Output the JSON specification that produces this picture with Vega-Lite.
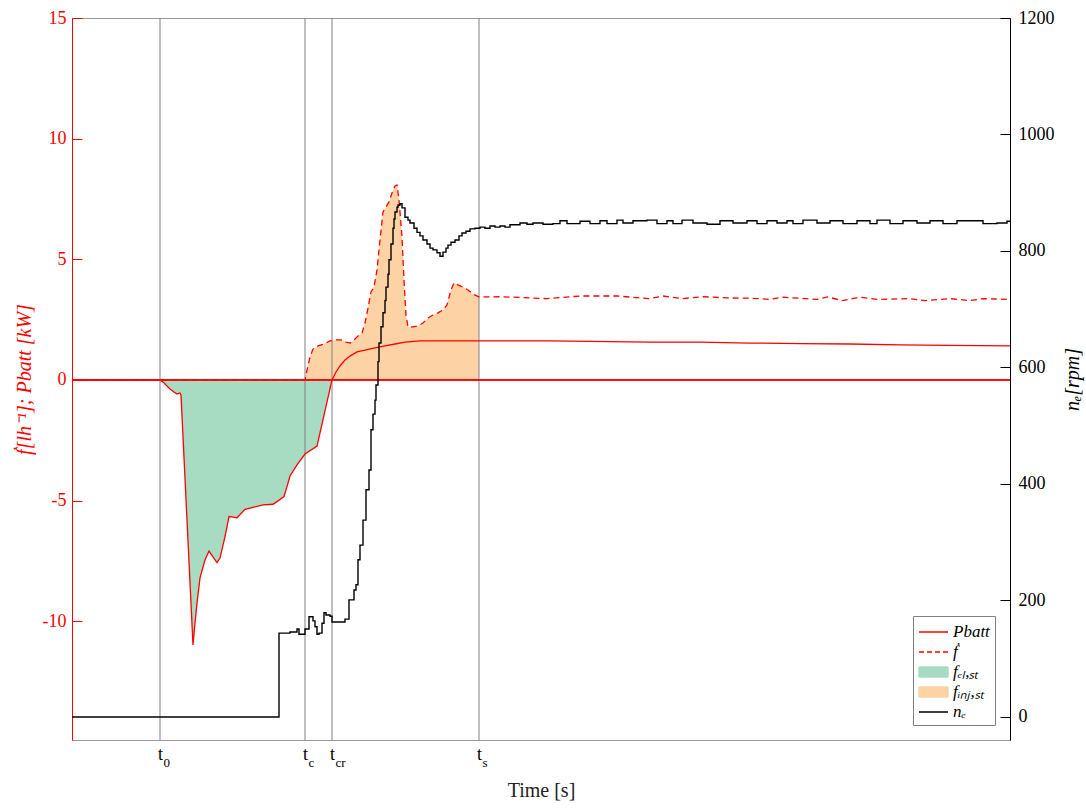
{
  "$schema": "https://vega.github.io/schema/vega-lite/v6.json",
  "width": 938,
  "height": 722,
  "autosize": {"type": "none"},
  "padding": {"left": 72, "top": 18, "right": 76, "bottom": 70},
  "background": "white",
  "config": {
    "font": "Liberation Serif",
    "view": {"stroke": "#999999", "strokeWidth": 1},
    "axis": {"labelFont": "Liberation Serif", "titleFont": "Liberation Serif", "grid": false, "titleFontWeight": "normal"}
  },
  "datasets": {
    "pbatt": [
      {"t": 0, "v": 0}, {"t": 8.8, "v": 0}, {"t": 9.1, "v": -0.08}, {"t": 9.4, "v": -0.21}, {"t": 9.8, "v": -0.37},
      {"t": 10.2, "v": -0.5}, {"t": 10.5, "v": -0.58}, {"t": 10.8, "v": -0.54}, {"t": 10.9, "v": -0.62},
      {"t": 12.1, "v": -10.98}, {"t": 12.3, "v": -10.07}, {"t": 12.5, "v": -9.25}, {"t": 12.8, "v": -8.2},
      {"t": 13.3, "v": -7.46}, {"t": 13.7, "v": -7.09}, {"t": 14.1, "v": -7.33}, {"t": 14.5, "v": -7.57},
      {"t": 14.8, "v": -7.38}, {"t": 15.3, "v": -6.49}, {"t": 15.7, "v": -5.66}, {"t": 16.1, "v": -5.68},
      {"t": 16.5, "v": -5.71}, {"t": 17.3, "v": -5.36}, {"t": 18.1, "v": -5.28}, {"t": 19.1, "v": -5.18},
      {"t": 20.1, "v": -5.15}, {"t": 20.6, "v": -5.01}, {"t": 21.2, "v": -4.83}, {"t": 21.5, "v": -4.42},
      {"t": 21.8, "v": -3.98}, {"t": 22.5, "v": -3.52}, {"t": 23.3, "v": -3.07}, {"t": 24.5, "v": -2.74},
      {"t": 26.0, "v": 0}, {"t": 26.4, "v": 0.33}, {"t": 26.8, "v": 0.58}, {"t": 27.3, "v": 0.83},
      {"t": 27.8, "v": 0.99}, {"t": 28.5, "v": 1.16}, {"t": 29.3, "v": 1.24}, {"t": 30.3, "v": 1.33},
      {"t": 31.3, "v": 1.41}, {"t": 32.3, "v": 1.49}, {"t": 33.3, "v": 1.57}, {"t": 34.8, "v": 1.62},
      {"t": 37.8, "v": 1.62}, {"t": 40.7, "v": 1.62}, {"t": 47.8, "v": 1.62}, {"t": 57.8, "v": 1.57},
      {"t": 62.8, "v": 1.57}, {"t": 67.8, "v": 1.53}, {"t": 72.8, "v": 1.51}, {"t": 77.8, "v": 1.49},
      {"t": 82.8, "v": 1.45}, {"t": 87.8, "v": 1.43}, {"t": 93.8, "v": 1.41}
    ],
    "fdot": [
      {"t": 0, "v": 0}, {"t": 23.3, "v": 0}, {"t": 23.5, "v": 0.41}, {"t": 23.8, "v": 0.95}, {"t": 24.1, "v": 1.28},
      {"t": 24.6, "v": 1.41}, {"t": 25.2, "v": 1.49}, {"t": 25.8, "v": 1.62}, {"t": 26.4, "v": 1.66},
      {"t": 26.9, "v": 1.66}, {"t": 27.4, "v": 1.57}, {"t": 27.8, "v": 1.53}, {"t": 28.2, "v": 1.66},
      {"t": 28.6, "v": 1.82}, {"t": 29.0, "v": 1.95}, {"t": 29.3, "v": 2.36}, {"t": 29.6, "v": 2.98},
      {"t": 29.9, "v": 3.65}, {"t": 30.2, "v": 3.85}, {"t": 30.5, "v": 4.56}, {"t": 30.8, "v": 5.8},
      {"t": 31.1, "v": 6.96}, {"t": 31.4, "v": 7.17}, {"t": 31.7, "v": 7.38}, {"t": 32.0, "v": 7.75},
      {"t": 32.3, "v": 8.04}, {"t": 32.5, "v": 8.08}, {"t": 32.7, "v": 7.46}, {"t": 33.0, "v": 5.93},
      {"t": 33.2, "v": 4.14}, {"t": 33.4, "v": 2.69}, {"t": 33.6, "v": 2.2}, {"t": 34.1, "v": 2.2},
      {"t": 34.6, "v": 2.24}, {"t": 35.1, "v": 2.36}, {"t": 35.6, "v": 2.57}, {"t": 36.1, "v": 2.69},
      {"t": 36.6, "v": 2.78}, {"t": 37.1, "v": 2.9}, {"t": 37.5, "v": 3.11}, {"t": 37.9, "v": 3.73},
      {"t": 38.2, "v": 4.02}, {"t": 38.6, "v": 3.94}, {"t": 39.1, "v": 3.85}, {"t": 39.6, "v": 3.73},
      {"t": 40.1, "v": 3.56}, {"t": 40.7, "v": 3.44}, {"t": 43.0, "v": 3.45}, {"t": 47.5, "v": 3.37},
      {"t": 50.8, "v": 3.48}, {"t": 54.5, "v": 3.48}, {"t": 57.8, "v": 3.37}, {"t": 59.1, "v": 3.48},
      {"t": 61.0, "v": 3.37}, {"t": 63.1, "v": 3.45}, {"t": 65.5, "v": 3.4}, {"t": 67.8, "v": 3.39},
      {"t": 69.8, "v": 3.34}, {"t": 71.1, "v": 3.43}, {"t": 74.5, "v": 3.34}, {"t": 75.6, "v": 3.44},
      {"t": 77.0, "v": 3.29}, {"t": 78.8, "v": 3.43}, {"t": 80.5, "v": 3.34}, {"t": 83.8, "v": 3.37},
      {"t": 85.3, "v": 3.29}, {"t": 87.8, "v": 3.37}, {"t": 89.8, "v": 3.29}, {"t": 91.1, "v": 3.37},
      {"t": 93.8, "v": 3.34}
    ],
    "ne": [
      {"t": 0, "rpm": 0}, {"t": 20.7, "rpm": 144}, {"t": 21.8, "rpm": 146}, {"t": 22.5, "rpm": 151},
      {"t": 22.7, "rpm": 142}, {"t": 23.3, "rpm": 151}, {"t": 23.7, "rpm": 172}, {"t": 24.1, "rpm": 165},
      {"t": 24.3, "rpm": 155}, {"t": 24.5, "rpm": 142}, {"t": 24.7, "rpm": 144}, {"t": 25.0, "rpm": 161},
      {"t": 25.2, "rpm": 179}, {"t": 25.4, "rpm": 175}, {"t": 25.8, "rpm": 173}, {"t": 26.0, "rpm": 163},
      {"t": 27.3, "rpm": 168}, {"t": 27.7, "rpm": 201}, {"t": 28.2, "rpm": 218}, {"t": 28.4, "rpm": 227},
      {"t": 28.6, "rpm": 270}, {"t": 28.8, "rpm": 295}, {"t": 29.1, "rpm": 338}, {"t": 29.4, "rpm": 390},
      {"t": 29.7, "rpm": 424}, {"t": 29.9, "rpm": 493}, {"t": 30.1, "rpm": 520}, {"t": 30.3, "rpm": 544},
      {"t": 30.4, "rpm": 570}, {"t": 30.6, "rpm": 610}, {"t": 30.7, "rpm": 642}, {"t": 30.9, "rpm": 670},
      {"t": 31.1, "rpm": 694}, {"t": 31.3, "rpm": 715}, {"t": 31.4, "rpm": 738}, {"t": 31.6, "rpm": 760},
      {"t": 31.7, "rpm": 785}, {"t": 31.9, "rpm": 812}, {"t": 32.1, "rpm": 839}, {"t": 32.2, "rpm": 855},
      {"t": 32.3, "rpm": 867}, {"t": 32.5, "rpm": 875}, {"t": 32.6, "rpm": 879}, {"t": 32.8, "rpm": 881},
      {"t": 33.0, "rpm": 874}, {"t": 33.3, "rpm": 858}, {"t": 33.6, "rpm": 853}, {"t": 33.8, "rpm": 848},
      {"t": 34.2, "rpm": 839}, {"t": 34.5, "rpm": 832}, {"t": 34.8, "rpm": 826}, {"t": 35.1, "rpm": 819},
      {"t": 35.5, "rpm": 812}, {"t": 35.8, "rpm": 805}, {"t": 36.1, "rpm": 802}, {"t": 36.5, "rpm": 797},
      {"t": 36.8, "rpm": 791}, {"t": 37.1, "rpm": 798}, {"t": 37.4, "rpm": 805}, {"t": 37.6, "rpm": 810},
      {"t": 37.9, "rpm": 815}, {"t": 38.3, "rpm": 819}, {"t": 38.7, "rpm": 826}, {"t": 39.0, "rpm": 831},
      {"t": 39.4, "rpm": 834}, {"t": 39.8, "rpm": 838}, {"t": 40.3, "rpm": 839}, {"t": 40.8, "rpm": 841},
      {"t": 41.3, "rpm": 839}, {"t": 41.8, "rpm": 843}, {"t": 42.3, "rpm": 841}, {"t": 42.8, "rpm": 843},
      {"t": 43.3, "rpm": 841}, {"t": 43.8, "rpm": 845}, {"t": 44.8, "rpm": 848}, {"t": 45.5, "rpm": 846},
      {"t": 46.1, "rpm": 848}, {"t": 47.1, "rpm": 846}, {"t": 48.1, "rpm": 847}, {"t": 48.8, "rpm": 852},
      {"t": 49.5, "rpm": 847}, {"t": 50.8, "rpm": 851}, {"t": 51.8, "rpm": 847}, {"t": 52.8, "rpm": 852},
      {"t": 53.5, "rpm": 847}, {"t": 54.5, "rpm": 853}, {"t": 55.1, "rpm": 848}, {"t": 56.1, "rpm": 852},
      {"t": 57.5, "rpm": 853}, {"t": 58.5, "rpm": 847}, {"t": 59.5, "rpm": 852}, {"t": 60.1, "rpm": 847},
      {"t": 61.0, "rpm": 853}, {"t": 62.1, "rpm": 848}, {"t": 63.5, "rpm": 846}, {"t": 64.8, "rpm": 852},
      {"t": 66.1, "rpm": 848}, {"t": 67.5, "rpm": 852}, {"t": 68.5, "rpm": 847}, {"t": 69.5, "rpm": 852},
      {"t": 70.5, "rpm": 848}, {"t": 71.5, "rpm": 852}, {"t": 72.1, "rpm": 847}, {"t": 73.1, "rpm": 853},
      {"t": 74.5, "rpm": 848}, {"t": 75.8, "rpm": 852}, {"t": 77.1, "rpm": 847}, {"t": 78.5, "rpm": 852},
      {"t": 79.8, "rpm": 847}, {"t": 80.5, "rpm": 853}, {"t": 81.8, "rpm": 847}, {"t": 83.1, "rpm": 852},
      {"t": 84.5, "rpm": 848}, {"t": 85.8, "rpm": 852}, {"t": 87.1, "rpm": 847}, {"t": 88.5, "rpm": 852},
      {"t": 89.8, "rpm": 852}, {"t": 91.1, "rpm": 847}, {"t": 92.5, "rpm": 848}, {"t": 93.5, "rpm": 851},
      {"t": 93.8, "rpm": 851}
    ],
    "marks": [
      {"t": 8.8, "name": "t0"}, {"t": 23.3, "name": "tc"}, {"t": 26.0, "name": "tcr"}, {"t": 40.7, "name": "ts"}
    ]
  },
  "layer": [
    {
      "layer": [
        {
          "data": {"name": "pbatt"},
          "transform": [{"filter": "datum.t >= 8.8 && datum.t <= 26.0"}],
          "mark": {"type": "area", "opacity": 1, "line": false},
          "encoding": {
            "x": {
              "field": "t", "type": "quantitative",
              "scale": {"domain": [0, 93.8], "nice": false, "zero": false},
              "axis": {
                "orient": "bottom", "values": [8.8, 23.3, 26.0, 40.7], "labelExpr": "'t'",
                "ticks": false, "domainColor": "#999999", "labelFontSize": 18, "labelColor": "black",
                "labelPadding": 5, "title": "Time [s]", "titleFontSize": 20, "titleColor": "#222222",
                "titlePadding": 17
              }
            },
            "y": {
              "field": "v", "type": "quantitative",
              "scale": {"domain": [-14.92, 15], "nice": false, "zero": false},
              "axis": {
                "orient": "left", "values": [-10, -5, 0, 5, 10, 15], "labelExpr": "'' + datum.value",
                "title": "ḟ[lh⁻¹]; Pbatt [kW]", "titleColor": "red", "titleFontSize": 20, "titleFontStyle": "italic",
                "labelColor": "red", "domainColor": "red", "tickColor": "red", "tickSize": -10,
                "labelFontSize": 18, "labelPadding": 16, "titlePadding": 8
              }
            },
            "y2": {"datum": 0},
            "color": {
              "datum": "fel", "type": "nominal",
              "scale": {"domain": ["P", "fdot", "fel", "finj", "ne"], "range": ["#ff0000", "#ff0000", "#a7dbc2", "#fdd2a5", "#000000"]},
              "legend": null
            }
          }
        },
        {
          "data": {"name": "fdot"},
          "transform": [{"filter": "datum.t >= 23.3 && datum.t <= 40.7"}],
          "mark": {"type": "area", "opacity": 1, "line": false},
          "encoding": {
            "x": {"field": "t", "type": "quantitative"},
            "y": {"field": "v", "type": "quantitative"},
            "y2": {"datum": 0},
            "color": {"datum": "finj", "type": "nominal", "legend": null}
          }
        },
        {
          "data": {"name": "marks"},
          "mark": {"type": "rule", "color": "#808080", "strokeWidth": 1},
          "encoding": {"x": {"field": "t", "type": "quantitative"}}
        },
        {
          "data": {"name": "marks"},
          "mark": {"type": "rule", "color": "#ff0000", "strokeWidth": 1},
          "encoding": {"y": {"datum": 0}}
        },
        {
          "data": {"name": "fdot"},
          "mark": {"type": "line", "strokeWidth": 1.3, "strokeDash": [6, 4]},
          "encoding": {
            "x": {"field": "t", "type": "quantitative"},
            "y": {"field": "v", "type": "quantitative"},
            "color": {
              "datum": "fdot", "type": "nominal",
              "legend": {
                "orient": "bottom-right", "offset": 15, "title": null,
                "strokeColor": "#808080", "fillColor": "white", "padding": 5,
                "labelFont": "Liberation Serif", "labelFontSize": 17, "labelFontStyle": "italic", "labelColor": "black",
                "symbolSize": 400, "rowPadding": 1, "labelOffset": 13,
                "symbolType": "M-1,0H1.9",
                "labelExpr": "datum.value == 'P' ? 'Pbatt' : datum.value == 'fdot' ? 'ḟ' : datum.value == 'fel' ? 'fₑₗ,ₛₜ' : datum.value == 'finj' ? 'fᵢₙⱼ,ₛₜ' : 'nₑ'",
                "encode": {
                  "symbols": {
                    "update": {
                      "shape": {"signal": "datum.value == 'fel' || datum.value == 'finj' ? 'M-1,-0.5H1.9V0.5H-1Z' : 'M-1,0H1.9'"},
                      "fill": {"signal": "datum.value == 'fel' ? '#a7dbc2' : datum.value == 'finj' ? '#fdd2a5' : 'transparent'"},
                      "strokeDash": {"signal": "datum.value == 'fdot' ? [5, 3] : [1, 0]"},
                      "strokeWidth": {"value": 1.5},
                      "opacity": {"value": 1}
                    }
                  }
                }
              }
            }
          }
        },
        {
          "data": {"name": "pbatt"},
          "mark": {"type": "line", "strokeWidth": 1.3},
          "encoding": {
            "x": {"field": "t", "type": "quantitative"},
            "y": {"field": "v", "type": "quantitative"},
            "color": {"datum": "P", "type": "nominal", "legend": null}
          }
        }
      ],
      "resolve": {"legend": {"color": "independent"}}
    },
    {
      "data": {"name": "ne"},
      "mark": {"type": "line", "interpolate": "step-after", "strokeWidth": 1.4},
      "encoding": {
        "x": {
          "field": "t", "type": "quantitative",
          "axis": {
            "orient": "bottom", "values": [8.8, 23.3, 26.0, 40.7],
            "labelExpr": "datum.value == 8.8 ? '0' : datum.value == 23.3 ? 'c' : datum.value == 26 ? 'cr' : 's'",
            "ticks": false, "domain": false, "labelFontSize": 13, "labelColor": "black",
            "labelAlign": "left", "labelOffset": 3, "labelPadding": 16, "title": null
          }
        },
        "y": {
          "field": "rpm", "type": "quantitative",
          "scale": {"domain": [-39.5, 1200], "nice": false, "zero": false},
          "axis": {
            "orient": "right", "values": [0, 200, 400, 600, 800, 1000, 1200], "labelExpr": "'' + datum.value",
            "title": "nₑ[rpm]", "titleAngle": 270, "titleFontSize": 20, "titleFontStyle": "italic", "titleColor": "black",
            "labelColor": "black", "domainColor": "black", "tickColor": "black", "tickSize": -10,
            "labelFontSize": 18, "labelPadding": 18, "titlePadding": 28
          }
        },
        "color": {"datum": "ne", "type": "nominal", "legend": null}
      }
    }
  ],
  "resolve": {"scale": {"y": "independent"}, "axis": {"x": "independent"}, "legend": {"color": "independent"}}
}
